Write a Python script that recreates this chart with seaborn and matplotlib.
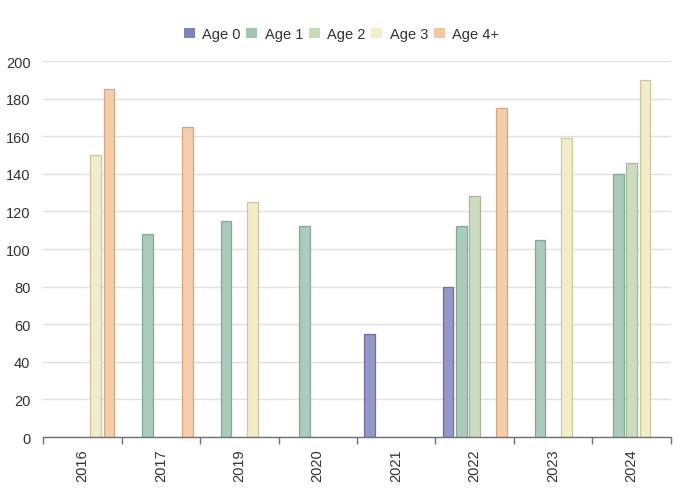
import numpy as np
import pandas as pd
import matplotlib
matplotlib.use("Agg")
import matplotlib.pyplot as plt
import seaborn as sns
from matplotlib.patches import Patch
import matplotlib.colors as mcolors

years = ["2016", "2017", "2019", "2020", "2021", "2022", "2023", "2024"]
series_names = ["Age 0", "Age 1", "Age 2", "Age 3", "Age 4+"]
age0 = [np.nan, np.nan, np.nan, np.nan, 55, 80, np.nan, np.nan]
age1 = [np.nan, 108, 115, 112, np.nan, 112.5, 105, 140]
age2 = [np.nan, np.nan, np.nan, np.nan, np.nan, 128, np.nan, 146]
age3 = [150, np.nan, 125, np.nan, np.nan, np.nan, 159, 190]
age4 = [185, 165, np.nan, np.nan, np.nan, 175, np.nan, np.nan]
colors = ["#9497c8", "#aacbba", "#cddcc0", "#f1edcb", "#f4cdab"]
edge_colors = ["#6c70a6", "#84a893", "#a3b895", "#cfc79c", "#d7a67f"]
legend_colors = ["#7e82c0", "#a0c5b1", "#c6dab5", "#f0edc8", "#f4c6a0"]

values = [age0, age1, age2, age3, age4]
rows = []
for name, vals in zip(series_names, values):
    for y, v in zip(years, vals):
        rows.append({"year": y, "age": name, "value": v})
df = pd.DataFrame(rows)

sns.set_theme(style="white")
plt.rcParams["font.family"] = ["Liberation Sans", "DejaVu Sans"]

fig = plt.figure(figsize=(6.87, 4.89), dpi=100)
ax = fig.add_axes([43/687, 1-438/489, (671-43)/687, (438-62)/489])

sns.barplot(data=df.dropna(), x="year", y="value", hue="age", order=years,
            hue_order=series_names, palette=colors, width=0.85, gap=0.2,
            ax=ax, legend=False, errorbar=None, saturation=1)

fc_map = {mcolors.to_hex(c): e for c, e in zip(colors, edge_colors)}
for p in ax.patches:
    key = mcolors.to_hex(p.get_facecolor())
    if key in fc_map:
        p.set_edgecolor(fc_map[key])
        p.set_linewidth(0.9)

ax.set_xlim(-0.5, len(years) - 0.5)
ax.set_ylim(0, 200)
ax.set_yticks(range(0, 201, 20))
ax.yaxis.grid(True, color="#e0e0e0", linewidth=1)
ax.set_axisbelow(True)
ax.set_xlabel("")
ax.set_ylabel("")
for s in ["top", "right", "left"]:
    ax.spines[s].set_visible(False)
ax.spines["bottom"].set_color("#6e7079")
ax.spines["bottom"].set_linewidth(1)

ax.set_xticks(range(len(years)))
ax.set_xticklabels(years, rotation=90, fontsize=10.5, color="#333333")
ax.tick_params(axis="x", which="major", length=0, pad=8)
ax.set_xticks(np.arange(-0.5, len(years) + 0.5, 1), minor=True)
ax.tick_params(axis="x", which="minor", bottom=True, length=5, color="#6e7079", width=1)
ax.tick_params(axis="y", length=0, labelsize=10.5, labelcolor="#333333", pad=9)

handles = [Patch(facecolor=c, edgecolor="none") for c in legend_colors]
fig.legend(handles, series_names, loc="center", bbox_to_anchor=(0.497, 1-35/489),
           ncol=5, frameon=False, fontsize=10.5, handlelength=0.75, handleheight=0.75,
           handletextpad=0.5, columnspacing=0.4, labelcolor="#333333")

fig.savefig("out.png", dpi=100)
